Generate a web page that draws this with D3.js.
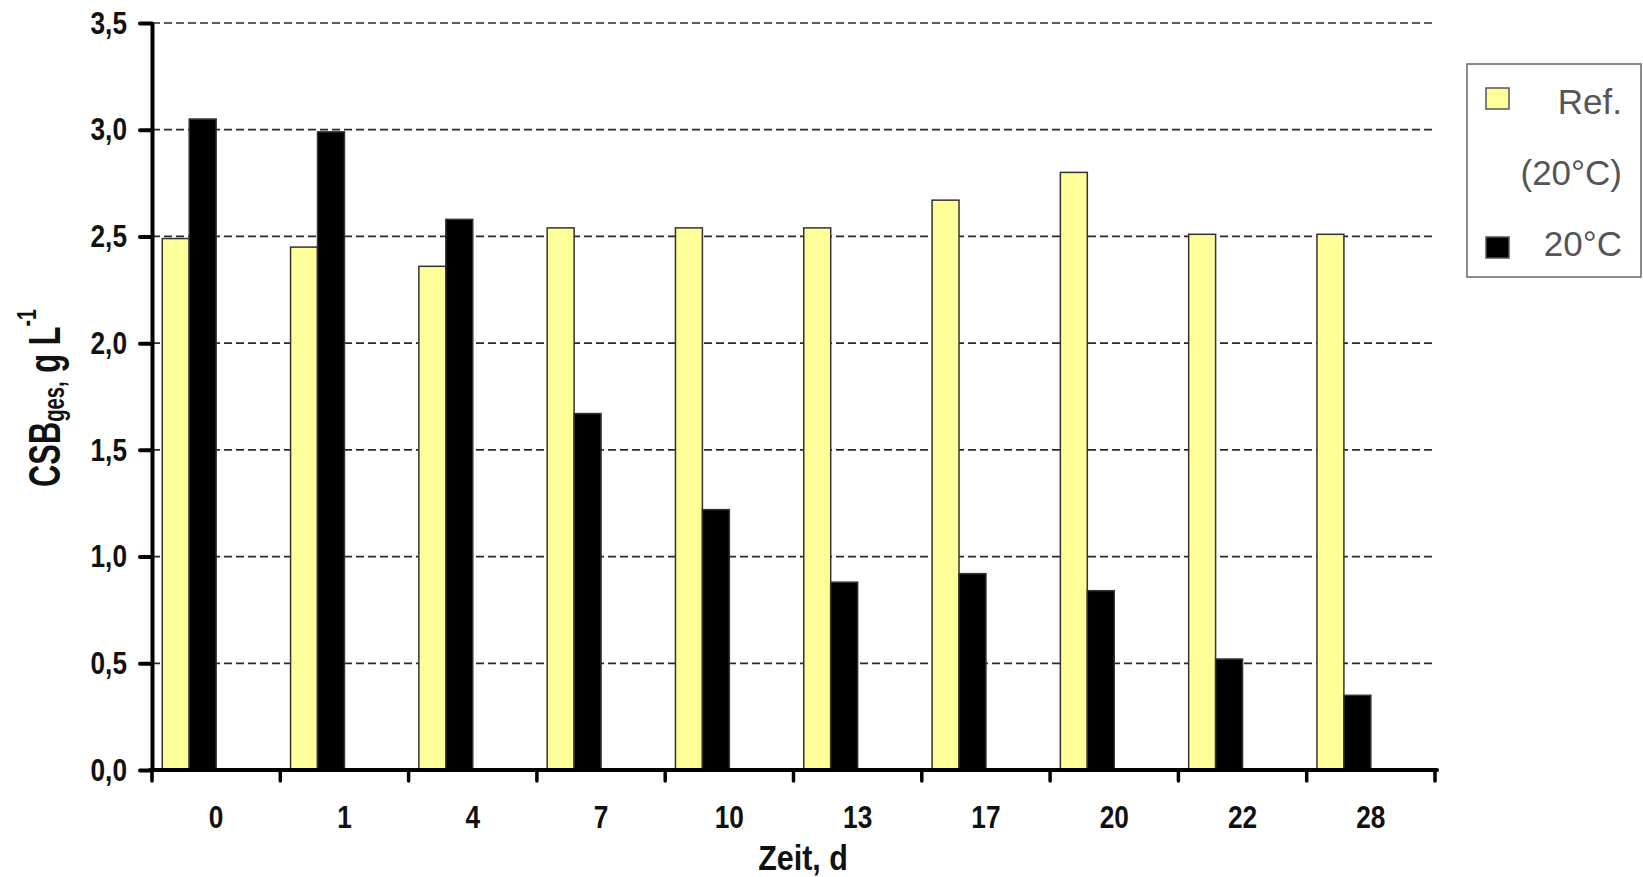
<!DOCTYPE html>
<html>
<head>
<meta charset="utf-8">
<script src="https://cdn.jsdelivr.net/npm/d3@7"></script>
<style>
  html, body { margin: 0; padding: 0; background: #fff; }
  svg { display: block; }
  .bold-text { font-family: "Liberation Sans", Arial, sans-serif; font-weight: bold; }
  .legend-text { font-family: "Liberation Sans", Arial, sans-serif; fill: #555; }
</style>
</head>
<body>
<svg id="chart" width="1643" height="877"></svg>
<script>
// Sampling days and COD (CSB) totals per series, g/L
const days = ["0", "1", "4", "7", "10", "13", "17", "20", "22", "28"];
const refValues  = [2.49, 2.45, 2.36, 2.54, 2.54, 2.54, 2.67, 2.80, 2.51, 2.51];
const warmValues = [3.05, 2.99, 2.58, 1.67, 1.22, 0.88, 0.92, 0.84, 0.52, 0.35];
const seriesKeys = ["ref", "warm"];
const seriesLabels = [["Ref.", "(20°C)"], ["20°C"]];
const seriesColors = ["#FFFF99", "#000000"];
const yTickValues = [0, 0.5, 1.0, 1.5, 2.0, 2.5, 3.0, 3.5];
const yTickLabels = ["0,0", "0,5", "1,0", "1,5", "2,0", "2,5", "3,0", "3,5"];

const svg = d3.select("#chart");
const plot = { left: 152, right: 1435, top: 23, bottom: 770 };
const condense = 0.82; // horizontal squeeze for the bold axis lettering

const x = d3.scaleBand()
  .domain(days)
  .range([plot.left, plot.right])
  .paddingInner(0.16)
  .paddingOuter(0.08);

// two visible series fill the left half of each category band
const xSub = d3.scaleBand()
  .domain(seriesKeys)
  .range([0, x.bandwidth() / 2]);

const y = d3.scaleLinear()
  .domain([0, 3.5])
  .range([plot.bottom, plot.top]);

const rows = days.map((d, i) => ({ day: d, ref: refValues[i], warm: warmValues[i] }));

// dashed horizontal gridlines
svg.append("g")
  .selectAll("line")
  .data(yTickValues.filter(v => v > 0))
  .join("line")
  .attr("x1", plot.left)
  .attr("x2", plot.right)
  .attr("y1", d => y(d))
  .attr("y2", d => y(d))
  .attr("stroke", "#2a2a2a")
  .attr("stroke-width", 1.7)
  .attr("stroke-dasharray", "8,4");

// bars
const groups = svg.append("g")
  .selectAll("g")
  .data(rows)
  .join("g")
  .attr("transform", d => `translate(${x(d.day)},0)`);

groups.selectAll("rect")
  .data(d => seriesKeys.map((k, j) => ({ key: k, value: d[k], color: seriesColors[j] })))
  .join("rect")
  .attr("x", d => xSub(d.key))
  .attr("width", xSub.bandwidth())
  .attr("y", d => y(d.value))
  .attr("height", d => y(0) - y(d.value))
  .attr("fill", d => d.color)
  .attr("stroke", "#333")
  .attr("stroke-width", 1.5);

// y axis
const yTickSize = 12, yTickPad = 13;
const yAxis = svg.append("g")
  .attr("transform", `translate(${plot.left},0)`)
  .call(d3.axisLeft(y)
    .tickValues(yTickValues)
    .tickFormat((d, i) => yTickLabels[i])
    .tickSize(yTickSize)
    .tickPadding(yTickPad)
    .tickSizeOuter(0));
yAxis.select(".domain").attr("stroke", "#000").attr("stroke-width", 4);
yAxis.selectAll(".tick line").attr("stroke", "#000").attr("stroke-width", 4).attr("stroke-linecap", "round");
yAxis.selectAll(".tick text")
  .attr("class", "bold-text")
  .attr("font-size", 32)
  .attr("fill", "#111")
  .attr("x", null)
  .attr("transform", `translate(${-(yTickSize + yTickPad)},0) scale(${condense},1)`);

// x axis: labels centred on categories, ticks on category boundaries
const xAxis = svg.append("g")
  .attr("transform", `translate(0,${plot.bottom})`)
  .call(d3.axisBottom(x).tickSize(0).tickPadding(35).tickSizeOuter(0));
xAxis.select(".domain").remove();
xAxis.selectAll(".tick text")
  .attr("class", "bold-text")
  .attr("font-size", 32)
  .attr("fill", "#111")
  .attr("transform", `scale(${condense},1)`);

const boundaries = days.map(d => x(d) - x.step() * x.paddingOuter());
boundaries.push(plot.right);

svg.append("line")
  .attr("x1", plot.left - 2)
  .attr("x2", plot.right + 2)
  .attr("y1", plot.bottom)
  .attr("y2", plot.bottom)
  .attr("stroke", "#000")
  .attr("stroke-width", 4)
  .attr("stroke-linecap", "round");

svg.append("g")
  .selectAll("line")
  .data(boundaries)
  .join("line")
  .attr("x1", d => d)
  .attr("x2", d => d)
  .attr("y1", plot.bottom)
  .attr("y2", plot.bottom + 11)
  .attr("stroke", "#000")
  .attr("stroke-width", 3.5)
  .attr("stroke-linecap", "round");

// axis titles
svg.append("text")
  .attr("class", "bold-text")
  .attr("transform", `translate(803,870) scale(0.87,1)`)
  .attr("text-anchor", "middle")
  .attr("font-size", 35)
  .attr("fill", "#111")
  .text("Zeit, d");

const yTitle = svg.append("text")
  .attr("class", "bold-text")
  .attr("transform", "translate(60,398) rotate(-90) scale(0.7,1)")
  .attr("text-anchor", "middle")
  .attr("font-size", 44)
  .attr("fill", "#111");
yTitle.append("tspan").text("CSB");
yTitle.append("tspan").attr("font-size", 29).attr("dy", 4).text("ges,");
yTitle.append("tspan").attr("dy", -4).text(" g L");
yTitle.append("tspan").attr("font-size", 28).attr("dy", -24).text("-1");

// legend
const legend = svg.append("g");
legend.append("rect")
  .attr("x", 1467)
  .attr("y", 64)
  .attr("width", 174)
  .attr("height", 213)
  .attr("fill", "#fff")
  .attr("stroke", "#666")
  .attr("stroke-width", 1.5);

const legendRows = [
  { swatchY: 88, lines: seriesLabels[0], baselines: [114, 185] },
  { swatchY: 237, lines: seriesLabels[1], baselines: [256] }
];
legendRows.forEach((r, i) => {
  legend.append("rect")
    .attr("x", 1486)
    .attr("y", r.swatchY)
    .attr("width", 23)
    .attr("height", 21)
    .attr("fill", seriesColors[i])
    .attr("stroke", "#555")
    .attr("stroke-width", 1.5);
  r.lines.forEach((t, k) => {
    legend.append("text")
      .attr("class", "legend-text")
      .attr("x", 1622)
      .attr("y", r.baselines[k])
      .attr("text-anchor", "end")
      .attr("font-size", 35)
      .text(t);
  });
});
</script>
</body>
</html>
